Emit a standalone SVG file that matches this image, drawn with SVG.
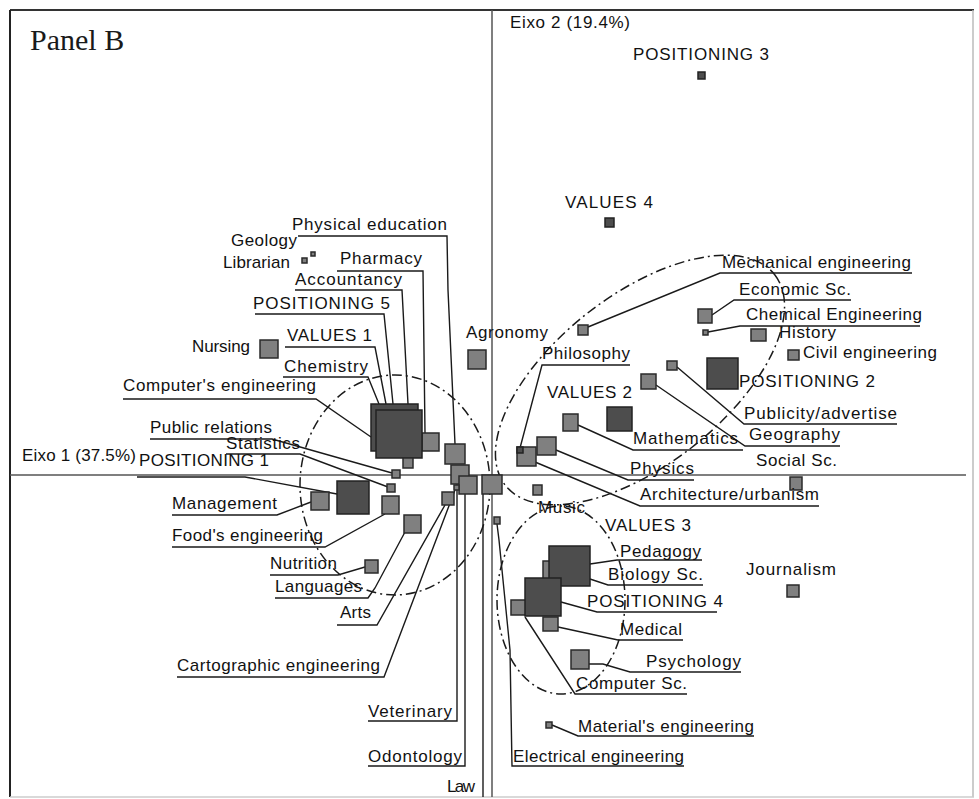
<svg xmlns="http://www.w3.org/2000/svg" width="979" height="799" viewBox="0 0 979 799">
<style>
.lbl{font-family:"Liberation Sans",Arial,sans-serif;font-size:17px;fill:#111}
.ttl{font-family:"Liberation Serif","Times New Roman",serif;font-size:30px;fill:#1a1a1a}
.sq{fill:#808080;stroke:#2a2a2a;stroke-width:1.5}
.dk{fill:#4d4d4d;stroke:#222;stroke-width:1.5}
.ld{fill:none;stroke:#1a1a1a;stroke-width:1.4}
.ell{fill:none;stroke:#1a1a1a;stroke-width:1.5;stroke-dasharray:10 4 2 4}
.ax{stroke:#555;stroke-width:1.5}
</style>
<rect x="0" y="0" width="979" height="799" fill="#fff"/>
<g id="frame">
<line x1="10" y1="10" x2="974" y2="10" stroke="#333" stroke-width="2"/>
<line x1="10" y1="10" x2="10" y2="797" stroke="#222" stroke-width="2"/>
<line x1="973" y1="10" x2="973" y2="797" stroke="#bbb" stroke-width="1.5"/>
<line x1="10" y1="797" x2="974" y2="797" stroke="#ccc" stroke-width="1.5"/>
<line class="ax" x1="10" y1="475" x2="966" y2="475"/>
<line class="ax" x1="492" y1="10" x2="492" y2="797"/>
<text class="ttl" x="30" y="50">Panel B</text>
<text class="lbl" x="510" y="28" textLength="120">Eixo 2 (19.4%)</text>
<text class="lbl" x="22" y="461" textLength="114">Eixo 1 (37.5%)</text>
</g>
<g id="ellipses">
<ellipse class="ell" cx="395" cy="485" rx="95" ry="110"/>
<ellipse class="ell" cx="640" cy="380" rx="171" ry="85" transform="rotate(-38 640 380)"/>
<ellipse class="ell" cx="561" cy="600" rx="64" ry="94"/>
</g>
<g id="connectors">
<polyline class="ld" points="298,236 447,236 448,290 455,444"/>
<polyline class="ld" points="337,271 423,271 425,433"/>
<polyline class="ld" points="295,290 402,290 408,404"/>
<polyline class="ld" points="255,314 384,314 393,404"/>
<polyline class="ld" points="285,347 375,347 386,404"/>
<polyline class="ld" points="283,377 368,377 379,404"/>
<polyline class="ld" points="123,399 316,399 371,437"/>
<polyline class="ld" points="150,439 272,439 392,473"/>
<polyline class="ld" points="226,454 300,454 388,487"/>
<polyline class="ld" points="137,477 245,477 337,494"/>
<polyline class="ld" points="172,515 277,515 311,502"/>
<polyline class="ld" points="172,547 325,547 385,514"/>
<polyline class="ld" points="270,575 338,575 365,567"/>
<polyline class="ld" points="275,598 368,598 375,588 405,532"/>
<polyline class="ld" points="337,625 377,625 445,505"/>
<polyline class="ld" points="177,677 384,677 455,490"/>
<polyline class="ld" points="368,721 457,721 457,484"/>
<polyline class="ld" points="368,766 465,766 465,494"/>
<polyline class="ld" points="483,797 483,494"/>
<polyline class="ld" points="684,766 512,766 510,650 499,540 497,524"/>
<polyline class="ld" points="588,327 720,273 912,273"/>
<polyline class="ld" points="712,315 734,300 851,300"/>
<polyline class="ld" points="708,332 740,326 920,326"/>
<polyline class="ld" points="677,367 744,424 897,424"/>
<polyline class="ld" points="656,385 745,446 840,446"/>
<polyline class="ld" points="578,425 633,450 743,450"/>
<polyline class="ld" points="556,450 628,480 694,480"/>
<polyline class="ld" points="535,462 640,506 819,506"/>
<polyline class="ld" points="630,365 542,365 520,448"/>
<polyline class="ld" points="590,564 617,560 702,560"/>
<polyline class="ld" points="590,579 608,585 703,585"/>
<polyline class="ld" points="561,602 597,612 717,612"/>
<polyline class="ld" points="558,627 618,640 683,640"/>
<polyline class="ld" points="589,664 603,664 630,672 741,672"/>
<polyline class="ld" points="525,617 575,694 687,694"/>
<polyline class="ld" points="552,725 578,736 754,736"/>
</g>
<g id="n_pos3"><rect class="dk" x="698" y="72" width="7" height="7"/><text class="lbl" x="633" y="60" textLength="136">POSITIONING 3</text></g>
<g id="n_val4"><rect class="dk" x="605" y="218" width="9" height="9"/><text class="lbl" x="565" y="208" textLength="88">VALUES 4</text></g>
<g id="n_geology"><rect class="sq" x="311" y="252" width="4" height="4"/><text class="lbl" x="231" y="246" textLength="66">Geology</text></g>
<g id="n_librarian"><rect class="sq" x="302" y="258" width="5" height="5"/><text class="lbl" x="223" y="268" textLength="67">Librarian</text></g>
<g id="n_physed"><rect class="sq" x="445" y="444" width="20" height="20"/><text class="lbl" x="292" y="230" textLength="155">Physical education</text></g>
<g id="n_pharmacy"><rect class="sq" x="422" y="433" width="17" height="18"/><text class="lbl" x="340" y="264" textLength="82">Pharmacy</text></g>
<g id="n_accountancy"><text class="lbl" x="295" y="285" textLength="107">Accountancy</text></g>
<g id="n_chemistry"><text class="lbl" x="284" y="372" textLength="84">Chemistry</text></g>
<g id="n_compeng"><text class="lbl" x="123" y="391" textLength="193">Computer's engineering</text></g>
<g id="n_val1"><rect class="dk" x="371" y="404" width="47" height="47"/><text class="lbl" x="287" y="341" textLength="85">VALUES 1</text></g>
<g id="n_pos5"><rect class="dk" x="376" y="410" width="46" height="48"/><text class="lbl" x="253" y="309" textLength="137">POSITIONING 5</text></g>
<g id="n_sq463"><rect class="sq" x="403" y="458" width="10" height="10"/></g>
<g id="n_nursing"><rect class="sq" x="260" y="340" width="18" height="18"/><text class="lbl" x="192" y="352" textLength="58">Nursing</text></g>
<g id="n_pubrel"><rect class="sq" x="392" y="470" width="8" height="8"/><text class="lbl" x="150" y="433" textLength="122">Public relations</text></g>
<g id="n_statistics"><rect class="sq" x="387" y="484" width="8" height="8"/><text class="lbl" x="226" y="449" textLength="74">Statistics</text></g>
<g id="n_pos1"><rect class="dk" x="337" y="481" width="32" height="33"/><text class="lbl" x="139" y="466" textLength="130">POSITIONING 1</text></g>
<g id="n_management"><rect class="sq" x="311" y="492" width="18" height="18"/><text class="lbl" x="172" y="509" textLength="105">Management</text></g>
<g id="n_foods"><rect class="sq" x="382" y="496" width="17" height="18"/><text class="lbl" x="172" y="541" textLength="151">Food's engineering</text></g>
<g id="n_languages"><rect class="sq" x="404" y="515" width="17" height="18"/><text class="lbl" x="275" y="592" textLength="87">Languages</text></g>
<g id="n_nutrition"><rect class="sq" x="365" y="560" width="13" height="13"/><text class="lbl" x="270" y="569" textLength="67">Nutrition</text></g>
<g id="n_veterinary"><rect class="sq" x="451" y="465" width="18" height="19"/><text class="lbl" x="368" y="717" textLength="84">Veterinary</text></g>
<g id="n_odontology"><rect class="sq" x="459" y="476" width="18" height="18"/><text class="lbl" x="368" y="762" textLength="94">Odontology</text></g>
<g id="n_arts"><rect class="sq" x="442" y="492" width="12" height="13"/><text class="lbl" x="340" y="618" textLength="31">Arts</text></g>
<g id="n_carto"><rect class="sq" x="454" y="485" width="5" height="5"/><text class="lbl" x="177" y="671" textLength="203">Cartographic engineering</text></g>
<g id="n_law"><rect class="sq" x="482" y="475" width="20" height="19"/><text class="lbl" x="447" y="792" textLength="28">Law</text></g>
<g id="n_electrical"><rect class="sq" x="494" y="517" width="6" height="7"/><text class="lbl" x="513" y="762" textLength="171">Electrical engineering</text></g>
<g id="n_agronomy"><rect class="sq" x="468" y="350" width="18" height="19"/><text class="lbl" x="466" y="338" textLength="82">Agronomy</text></g>
<g id="n_mech"><rect class="sq" x="578" y="325" width="10" height="10"/><text class="lbl" x="722" y="268" textLength="189">Mechanical engineering</text></g>
<g id="n_econ"><rect class="sq" x="698" y="309" width="14" height="14"/><text class="lbl" x="739" y="295" textLength="112">Economic Sc.</text></g>
<g id="n_chemeng"><rect class="sq" x="703" y="330" width="5" height="5"/><text class="lbl" x="746" y="320" textLength="176">Chemical Engineering</text></g>
<g id="n_history"><rect class="sq" x="751" y="329" width="15" height="12"/><text class="lbl" x="779" y="338" textLength="57">History</text></g>
<g id="n_civil"><rect class="sq" x="788" y="350" width="11" height="10"/><text class="lbl" x="803" y="358" textLength="134">Civil engineering</text></g>
<g id="n_pos2"><rect class="dk" x="707" y="358" width="31" height="31"/><text class="lbl" x="739" y="387" textLength="136">POSITIONING 2</text></g>
<g id="n_publicity"><rect class="sq" x="667" y="361" width="10" height="9"/><text class="lbl" x="744" y="419" textLength="153">Publicity/advertise</text></g>
<g id="n_geography"><rect class="sq" x="641" y="374" width="15" height="15"/><text class="lbl" x="749" y="440" textLength="91">Geography</text></g>
<g id="n_social"><rect class="sq" x="790" y="477" width="12" height="13"/><text class="lbl" x="756" y="466" textLength="81">Social Sc.</text></g>
<g id="n_math"><rect class="sq" x="563" y="414" width="15" height="17"/><text class="lbl" x="633" y="444" textLength="105">Mathematics</text></g>
<g id="n_physics"><rect class="sq" x="537" y="437" width="19" height="18"/><text class="lbl" x="630" y="474" textLength="64">Physics</text></g>
<g id="n_arch"><rect class="sq" x="517" y="447" width="19" height="19"/><text class="lbl" x="640" y="500" textLength="179">Architecture/urbanism</text></g>
<g id="n_philosophy"><rect class="dk" x="517" y="447" width="6" height="6"/><text class="lbl" x="542" y="359" textLength="88">Philosophy</text></g>
<g id="n_val2"><rect class="dk" x="607" y="407" width="25" height="24"/><text class="lbl" x="547" y="398" textLength="85">VALUES 2</text></g>
<g id="n_music"><rect class="sq" x="533" y="485" width="9" height="10"/><text class="lbl" x="538" y="513" textLength="47">Music</text></g>
<g id="n_biology"><rect class="sq" x="543" y="561" width="18" height="18"/><text class="lbl" x="608" y="580" textLength="95">Biology Sc.</text></g>
<g id="n_pedagogy"><text class="lbl" x="620" y="557" textLength="81">Pedagogy</text></g>
<g id="n_val3"><rect class="dk" x="549" y="546" width="41" height="40"/><text class="lbl" x="605" y="531" textLength="86">VALUES 3</text></g>
<g id="n_compsc"><rect class="sq" x="511" y="600" width="15" height="15"/><text class="lbl" x="576" y="689" textLength="111">Computer Sc.</text></g>
<g id="n_medical"><rect class="sq" x="543" y="617" width="15" height="14"/><text class="lbl" x="620" y="635" textLength="62">Medical</text></g>
<g id="n_pos4"><rect class="dk" x="525" y="578" width="36" height="38"/><text class="lbl" x="587" y="607" textLength="136">POSITIONING 4</text></g>
<g id="n_psychology"><rect class="sq" x="571" y="650" width="18" height="19"/><text class="lbl" x="646" y="667" textLength="95">Psychology</text></g>
<g id="n_material"><rect class="sq" x="546" y="722" width="6" height="6"/><text class="lbl" x="578" y="732" textLength="176">Material's engineering</text></g>
<g id="n_journalism"><rect class="sq" x="787" y="585" width="12" height="12"/><text class="lbl" x="746" y="575" textLength="90">Journalism</text></g>
</svg>
